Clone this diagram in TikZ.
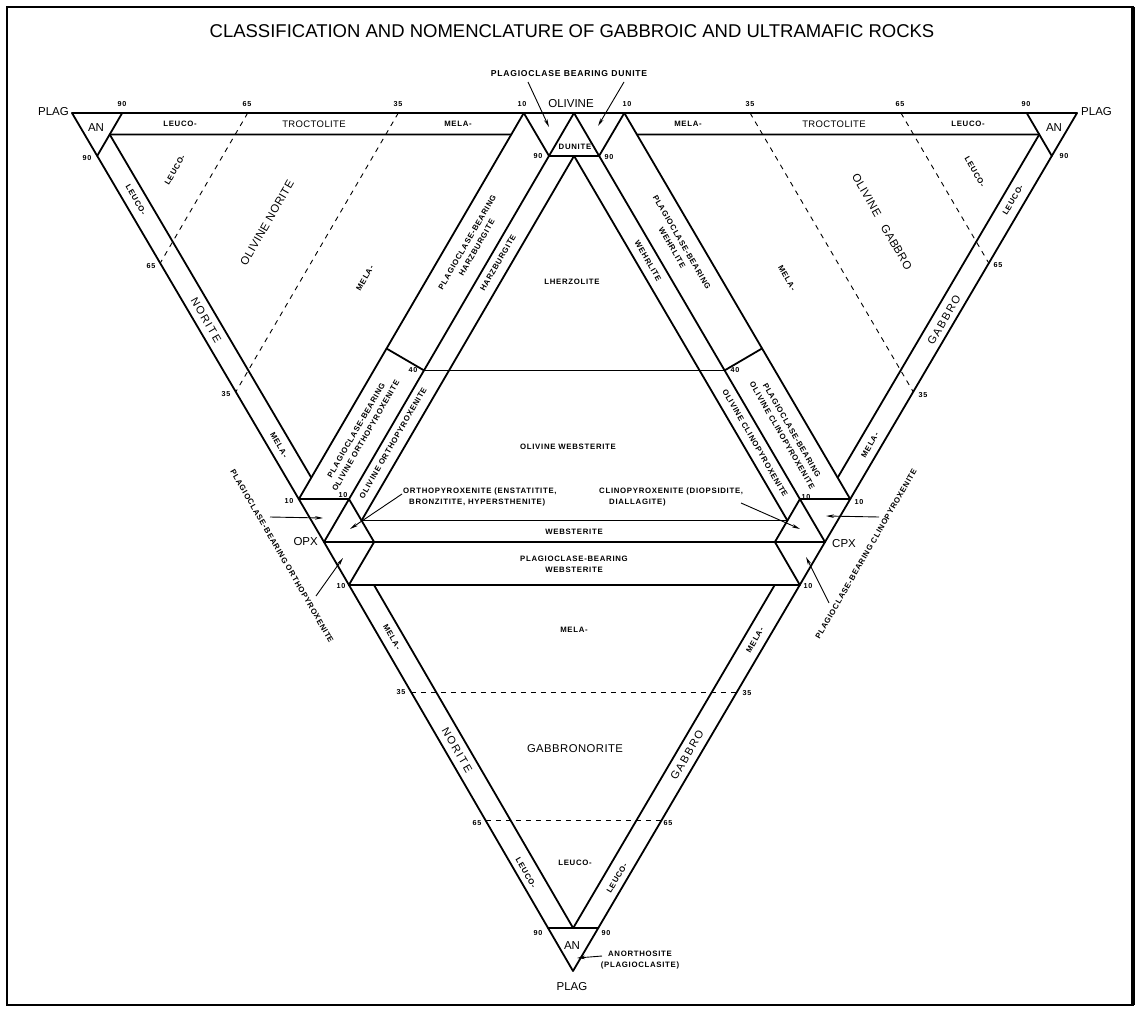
\documentclass[tikz,border=0pt]{standalone}
\usepackage{fontspec}
\setmainfont{Liberation Sans}
\newfontfamily\fA[LetterSpace=9]{Liberation Sans}
\newfontfamily\fB[LetterSpace=15]{Liberation Sans}
\newfontfamily\fC[LetterSpace=4]{Liberation Sans}
\newfontfamily\fV{Liberation Sans}
\usetikzlibrary{calc,arrows.meta}
\begin{document}
\begin{tikzpicture}[x=1pt,y=-1pt,
 ln/.style={line width=1.8pt, line cap=round, line join=round},
 dsh/.style={line width=0.9pt, dash pattern=on 5pt off 5pt},
 arr/.style={line width=0.9pt, -{Stealth[length=8pt,width=3.5pt]}},
 lab/.style={font=\fA\bfseries\fontsize{7.8}{11}\selectfont, inner sep=0pt, align=center},
 num/.style={font=\fA\bfseries\fontsize{7.2}{8}\selectfont, inner sep=0pt},
 big/.style={font=\fC\fontsize{11.3}{13}\selectfont, inner sep=0pt},
 bnd/.style={font=\fB\fontsize{11}{13}\selectfont, inner sep=0pt},
 vtx/.style={font=\fV\fontsize{11.5}{13}\selectfont, inner sep=0pt},
 ttl/.style={font=\fV\fontsize{18.5}{22}\selectfont, inner sep=0pt}]
\useasboundingbox (0,0) rectangle (1139,1011);
\fill[white] (0,0) rectangle (1139,1011);
\draw[line width=2.5pt] (7,7) rectangle (1133,1005);
\draw[line width=4pt] (1133,7) -- (1133,1005);

% main vertices
\coordinate (PL) at (72,113);
\coordinate (Ol) at (574,113);
\coordinate (PR) at (1077,113);
\coordinate (Opx) at (324,542);
\coordinate (Cpx) at (825,542);
\coordinate (PB) at (573,971);

% left triangle
\coordinate (La90) at (barycentric cs:PL=.9,Ol=.1);
\coordinate (Lb90) at (barycentric cs:PL=.9,Opx=.1);
\coordinate (La10) at (barycentric cs:PL=.1,Ol=.9);
\coordinate (Lb10) at (barycentric cs:PL=.1,Opx=.9);
\coordinate (Lk) at (barycentric cs:PL=.9,Ol=.05,Opx=.05);
\coordinate (Lt) at (barycentric cs:PL=.1,Ol=.85,Opx=.05);
\coordinate (Lo) at (barycentric cs:PL=.1,Ol=.05,Opx=.85);
\coordinate (La65) at (barycentric cs:PL=.65,Ol=.35);
\coordinate (Lb65) at (barycentric cs:PL=.65,Opx=.35);
\coordinate (La35) at (barycentric cs:PL=.35,Ol=.65);
\coordinate (Lb35) at (barycentric cs:PL=.35,Opx=.65);
% central triangle
\coordinate (D1) at (barycentric cs:Ol=.9,Opx=.1);
\coordinate (D2) at (barycentric cs:Ol=.9,Cpx=.1);
\coordinate (Dm) at (barycentric cs:Ol=.9,Opx=.05,Cpx=.05);
\coordinate (J1) at (barycentric cs:Ol=.05,Opx=.9,Cpx=.05);
\coordinate (J2) at (barycentric cs:Ol=.05,Opx=.05,Cpx=.9);
\coordinate (F1) at (barycentric cs:Ol=.4,Opx=.6);
\coordinate (F2) at (barycentric cs:Ol=.4,Cpx=.6);
\coordinate (X1) at (barycentric cs:Ol=.1,Opx=.9);
\coordinate (X2) at (barycentric cs:Ol=.1,Cpx=.9);
\coordinate (Y1) at (barycentric cs:Cpx=.1,Opx=.9);
\coordinate (Y2) at (barycentric cs:Opx=.1,Cpx=.9);
% right triangle
\coordinate (Ra90) at (barycentric cs:PR=.9,Ol=.1);
\coordinate (Rb90) at (barycentric cs:PR=.9,Cpx=.1);
\coordinate (Ra10) at (barycentric cs:PR=.1,Ol=.9);
\coordinate (Rb10) at (barycentric cs:PR=.1,Cpx=.9);
\coordinate (Rk) at (barycentric cs:PR=.9,Ol=.05,Cpx=.05);
\coordinate (Rt) at (barycentric cs:PR=.1,Ol=.85,Cpx=.05);
\coordinate (Ro) at (barycentric cs:PR=.1,Ol=.05,Cpx=.85);
\coordinate (Ra65) at (barycentric cs:PR=.65,Ol=.35);
\coordinate (Rb65) at (barycentric cs:PR=.65,Cpx=.35);
\coordinate (Ra35) at (barycentric cs:PR=.35,Ol=.65);
\coordinate (Rb35) at (barycentric cs:PR=.35,Cpx=.65);
% lower triangle
\coordinate (Ba10) at (barycentric cs:PB=.1,Opx=.9);
\coordinate (Bb10) at (barycentric cs:PB=.1,Cpx=.9);
\coordinate (Ba90) at (barycentric cs:PB=.9,Opx=.1);
\coordinate (Bb90) at (barycentric cs:PB=.9,Cpx=.1);
\coordinate (Bm) at (barycentric cs:PB=.9,Opx=.05,Cpx=.05);
\coordinate (Bi1) at (barycentric cs:PB=.1,Opx=.85,Cpx=.05);
\coordinate (Bi2) at (barycentric cs:PB=.1,Opx=.05,Cpx=.85);
\coordinate (Ba35) at (barycentric cs:PB=.35,Opx=.65);
\coordinate (Bb35) at (barycentric cs:PB=.35,Cpx=.65);
\coordinate (Ba65) at (barycentric cs:PB=.65,Opx=.35);
\coordinate (Bb65) at (barycentric cs:PB=.65,Cpx=.35);
\coordinate (P1) at ($(La10)!(F1)!(Lb10)$);
\coordinate (P2) at ($(Ra10)!(F2)!(Rb10)$);

% outer and central edges
\draw[ln] (PL) -- (PR);
\draw[ln] (PL) -- (Opx) -- (PB) -- (Cpx) -- (PR);
\draw[ln] (Ol) -- (Opx) -- (Cpx) -- cycle;
% left triangle
\draw[ln] (La90) -- (Lb90);
\draw[ln] (La10) -- (Lb10);
\draw[ln] (Lk) -- (Lt);
\draw[ln] (Lk) -- (Lo);
\draw[ln] (La10) -- (D1);
\draw[ln] (Lb10) -- (X1);
\draw[ln] (F1) -- (P1);
\draw[dsh] (La65) -- (Lb65);
\draw[dsh] (La35) -- (Lb35);
% right triangle
\draw[ln] (Ra90) -- (Rb90);
\draw[ln] (Ra10) -- (Rb10);
\draw[ln] (Rk) -- (Rt);
\draw[ln] (Rk) -- (Ro);
\draw[ln] (Ra10) -- (D2);
\draw[ln] (Rb10) -- (X2);
\draw[ln] (F2) -- (P2);
\draw[dsh] (Ra65) -- (Rb65);
\draw[dsh] (Ra35) -- (Rb35);
% central triangle
\draw[ln] (D1) -- (D2);
\draw[ln] (J1) -- (Dm) -- (J2);
\draw[ln] (F1) -- (F2);
\draw[ln] (J1) -- (J2);
\draw[ln] (X1) -- (Y1);
\draw[ln] (X2) -- (Y2);
% lower triangle
\draw[ln] (Ba10) -- (Bb10);
\draw[ln] (Ba90) -- (Bb90);
\draw[ln] (Y1) -- (Ba10);
\draw[ln] (Y2) -- (Bb10);
\draw[ln] (Bi1) -- (Bm) -- (Bi2);
\draw[dsh] (Ba35) -- (Bb35);
\draw[dsh] (Ba65) -- (Bb65);

% title and vertex labels
\node[ttl] (title) at (572,31) {CLASSIFICATION AND NOMENCLATURE OF GABBROIC AND ULTRAMAFIC ROCKS};
\node[vtx,anchor=east] (plagL) at (69,112) {PLAG};
\node[vtx,anchor=west] (plagR) at (1081,112) {PLAG};
\node[vtx] (plagB) at (572,987) {PLAG};
\node[vtx] (olv) at (571,104) {OLIVINE};
\node[vtx,anchor=east] (opx) at (318,542) {OPX};
\node[vtx,anchor=west] (cpx) at (832,544) {CPX};
\node[vtx] (anL) at (96,128) {AN};
\node[vtx] (anR) at (1054,128) {AN};
\node[vtx] (anB) at (572,946) {AN};

% numbers
\node[num] (n1) at (122,104) {90};
\node[num] (n2) at (247,104) {65};
\node[num] (n3) at (398,104) {35};
\node[num] (n4) at (522,104) {10};
\node[num] (n5) at (627,104) {10};
\node[num] (n6) at (750,104) {35};
\node[num] (n7) at (900,104) {65};
\node[num] (n8) at (1026,104) {90};
\node[num] (n9) at (87,158) {90};
\node[num] (n10) at (151,266) {65};
\node[num] (n11) at (226,394) {35};
\node[num] (n12) at (289,501) {10};
\node[num] (n13) at (1064,156) {90};
\node[num] (n14) at (998,265) {65};
\node[num] (n15) at (923,395) {35};
\node[num] (n16) at (859,502) {10};
\node[num] (n17) at (538,156) {90};
\node[num] (n18) at (609,157) {90};
\node[num] (n19) at (413,370) {40};
\node[num] (n20) at (735,370) {40};
\node[num] (n21) at (343,495) {10};
\node[num] (n22) at (806,497) {10};
\node[num] (n23) at (341,586) {10};
\node[num] (n24) at (808,586) {10};
\node[num] (n25) at (401,692) {35};
\node[num] (n26) at (747,693) {35};
\node[num] (n27) at (477,823) {65};
\node[num] (n28) at (668,823) {65};
\node[num] (n29) at (538,933) {90};
\node[num] (n30) at (606,933) {90};

% top bands
\node[lab] (t1) at (180,124) {LEUCO-};
\node[font=\fC\fontsize{9.5}{11}\selectfont,inner sep=0pt] (t2) at (314,124) {TROCTOLITE};
\node[lab] (t3) at (458,124) {MELA-};
\node[lab] (t4) at (688,124) {MELA-};
\node[font=\fC\fontsize{9.5}{11}\selectfont,inner sep=0pt] (t5) at (834,124) {TROCTOLITE};
\node[lab] (t6) at (968,124) {LEUCO-};
% left triangle texts
\node[lab,rotate=-60] (l1) at (136,200) {LEUCO-};
\node[bnd,rotate=-60] (l2) at (206,320) {NORITE};
\node[lab,rotate=-60] (l3) at (279,445) {MELA-};
\node[lab,rotate=60] (l4) at (175,170) {LEUCO-};
\node[big,rotate=60] (l5) at (267,223) {OLIVINE NORITE};
\node[lab,rotate=60] (l6) at (365,278) {MELA-};
\node[lab,rotate=60] (l7) at (472,245) {PLAGIOCLASE-BEARING\\HARZBURGITE};
\node[lab,rotate=60] (l8) at (361,433) {PLAGIOCLASE-BEARING\\OLIVINE ORTHOPYROXENITE};
% right triangle texts
\node[lab,rotate=60] (r1) at (1013,200) {LEUCO-};
\node[bnd,rotate=60] (r2) at (944,320) {GABBRO};
\node[lab,rotate=60] (r3) at (870,445) {MELA-};
\node[lab,rotate=-60] (r4) at (975,172) {LEUCO-};
\node[big,rotate=-60] (r5) at (882,222) {OLIVINE\hspace{7pt} GABBRO};
\node[lab,rotate=-60] (r6) at (787,278) {MELA-};
\node[lab,rotate=-60] (r7) at (677,245) {PLAGIOCLASE-BEARING\\WEHRLITE};
\node[lab,rotate=-60] (r8) at (787,433) {PLAGIOCLASE-BEARING\\OLIVINE CLINOPYROXENITE};
% central texts
\node[lab] (c0) at (575,147) {DUNITE};
\node[lab,rotate=60] (c1) at (498,263) {HARZBURGITE};
\node[lab,rotate=60] (c2) at (393,443) {OLIVINE ORTHOPYROXENITE};
\node[lab,rotate=-60] (c3) at (648,261) {WEHRLITE};
\node[lab,rotate=-60] (c4) at (755,443) {OLIVINE CLINOPYROXENITE};
\node[lab] (c5) at (572,282) {LHERZOLITE};
\node[lab] (c6) at (568,447) {OLIVINE WEBSTERITE};
\node[lab] (c7) at (574,532) {WEBSTERITE};
\node[lab,align=left,anchor=west] (c8) at (403,497) {ORTHOPYROXENITE (ENSTATITITE,\\\hspace*{6pt}BRONZITITE, HYPERSTHENITE)};
\node[lab,align=left,anchor=west] (c9) at (599,497) {CLINOPYROXENITE (DIOPSIDITE,\\\hspace*{10pt}DIALLAGITE)};
% lower triangle texts
\node[lab] (b1) at (574,564) {PLAGIOCLASE-BEARING\\WEBSTERITE};
\node[lab] (b2) at (574,630) {MELA-};
\node[lab,rotate=-60] (b3) at (392,637) {MELA-};
\node[lab,rotate=60] (b4) at (755,640) {MELA-};
\node[bnd,rotate=-60] (b5) at (457,750) {NORITE};
\node[bnd,rotate=60] (b6) at (687,755) {GABBRO};
\node[big] (b7) at (575,749) {GABBRONORITE};
\node[lab] (b8) at (575,863) {LEUCO-};
\node[lab,rotate=-60] (b9) at (526,873) {LEUCO-};
\node[lab,rotate=60] (b10) at (617,878) {LEUCO-};
\node[lab] (b11) at (640,960) {ANORTHOSITE\\(PLAGIOCLASITE)};
% side texts
\node[font=\fA\bfseries\fontsize{8.6}{11}\selectfont,inner sep=0pt] (pbd) at (569,74) {PLAGIOCLASE BEARING DUNITE};
\node[lab,rotate=-60] (pbo) at (282,556) {PLAGIOCLASE-BEARING ORTHOPYROXENITE};
\node[lab,rotate=60] (pbc) at (866,554) {PLAGIOCLASE-BEARING CLINOPYROXENITE};

% arrows
\coordinate (pbdA1) at (528,82); \coordinate (pbdT1) at (549,127);
\coordinate (pbdA2) at (624,82); \coordinate (pbdT2) at (598,126);
\draw[arr] (pbdA1) -- (pbdT1);
\draw[arr] (pbdA2) -- (pbdT2);
\coordinate (opxA) at (402,494); \coordinate (opxT) at (350,529);
\draw[arr] (opxA) -- (opxT);
\coordinate (cpxA) at (741,503); \coordinate (cpxT) at (800,529);
\draw[arr] (cpxA) -- (cpxT);
\coordinate (pboA1) at (270,517); \coordinate (pboT1) at (323,518);
\coordinate (pboA2) at (316,596); \coordinate (pboT2) at (343,558);
\draw[arr] (pboA1) -- (pboT1);
\draw[arr] (pboA2) -- (pboT2);
\coordinate (pbcA1) at (879,517); \coordinate (pbcT1) at (826,516);
\coordinate (pbcA2) at (829,603); \coordinate (pbcT2) at (806,557);
\draw[arr] (pbcA1) -- (pbcT1);
\draw[arr] (pbcA2) -- (pbcT2);
\coordinate (anA) at (602,956); \coordinate (anT) at (577,958);
\draw[arr] (anA) -- (anT);
\end{tikzpicture}
\end{document}
